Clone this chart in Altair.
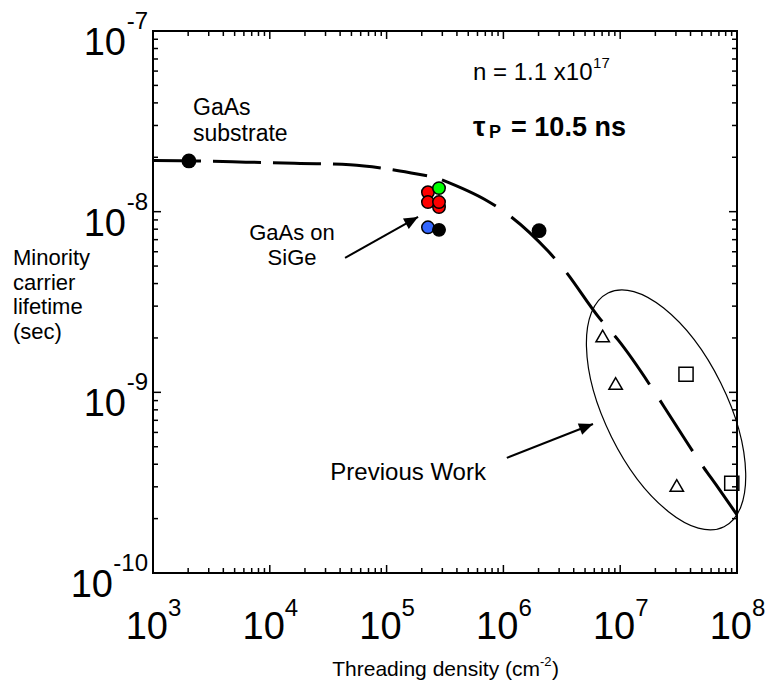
import altair as alt
import pandas as pd

FONT = "Liberation Sans"

# ---- data ----
curve_density = [1e3, 2.07e3, 6.25e3, 1.82e4, 4.86e4, 1.30e5, 2.22e5,
                 2.98e5, 7.24e5, 9.73e5, 2.41e6, 3.18e6, 6.72e6, 9.59e6,
                 2.07e7, 2.57e7, 5.21e7, 6.61e7, 1e8]
curve_lifetime = [1.92e-8, 1.91e-8, 1.88e-8, 1.85e-8, 1.82e-8, 1.68e-8, 1.58e-8,
                  1.50e-8, 1.15e-8, 1.02e-8, 6.05e-9, 4.94e-9, 2.55e-9, 1.95e-9,
                  9.55e-10, 7.69e-10, 3.82e-10, 3.08e-10, 2.10e-10]

dot_density = [2.03e3, 2.02e6]
dot_lifetime = [1.91e-8, 7.85e-9]

sige_density = [2.81e5, 2.26e5, 2.26e5, 2.81e5, 2.81e5, 2.26e5, 2.81e5]
sige_lifetime = [1.06e-8, 1.28e-8, 1.13e-8, 1.13e-8, 1.35e-8, 8.19e-9, 7.93e-9]
sige_color = ["#ff0000", "#ff0000", "#ff0000", "#ff0000", "#00ff00", "#3366ff", "#000000"]

prev_tri_density = [7.08e6, 9.14e6, 3.05e7]
prev_tri_lifetime = [2.05e-9, 1.12e-9, 3.05e-10]
prev_sq_density = [3.66e7, 9.02e7]
prev_sq_lifetime = [1.26e-9, 3.14e-10]

x_major = [1e3, 1e4, 1e5, 1e6, 1e7, 1e8]
x_exp = ["3", "4", "5", "6", "7", "8"]
y_major = [1e-7, 1e-8, 1e-9]
y_exp = ["-7", "-8", "-9"]
y_major_last = [1e-10]
y_exp_last = ["-10"]
x_minor = [m * 10.0 ** e for e in range(3, 8) for m in range(2, 10)]
y_minor = [m * 10.0 ** e for e in range(-10, -7) for m in range(2, 10)]

# annotation anchors (data coordinates)
ellipse_center = {"x": [2.47e7], "y": [8.0e-10]}
arrow_x = [4.41e4, 1.07e6]
arrow_y = [5.55e-9, 4.34e-10]
arrow_x2 = [1.86e5, 5.85e6]
arrow_y2 = [9.35e-9, 6.68e-10]
arrow_angle = [330.7, 338.4]

W, H = 584, 542
xs = alt.Scale(type="log", domain=[1e3, 1e8])
ys = alt.Scale(type="log", domain=[1e-10, 1e-7])


def X(f="x"):
    return alt.X(f"{f}:Q", scale=xs, axis=None)


def Y(f="y"):
    return alt.Y(f"{f}:Q", scale=ys, axis=None)


layers = []

# ---- ticks (inward, all four sides) ----
dxM = pd.DataFrame({"x": x_major})
dxm = pd.DataFrame({"x": x_minor})
dyM = pd.DataFrame({"y": y_major + y_major_last})
dym = pd.DataFrame({"y": y_minor})
for d, L in ((dxM, 8), (dxm, 5)):
    layers.append(alt.Chart(d).mark_rule(color="black", strokeWidth=1.5).encode(
        x=X(), y=alt.value(H), y2=alt.value(H - L)))
    layers.append(alt.Chart(d).mark_rule(color="black", strokeWidth=1.5).encode(
        x=X(), y=alt.value(0), y2=alt.value(L)))
for d, L in ((dyM, 8), (dym, 5)):
    layers.append(alt.Chart(d).mark_rule(color="black", strokeWidth=1.5).encode(
        y=Y(), x=alt.value(0), x2=alt.value(L)))
    layers.append(alt.Chart(d).mark_rule(color="black", strokeWidth=1.5).encode(
        y=Y(), x=alt.value(W), x2=alt.value(W - L)))

# ---- dashed curve ----
curve = pd.DataFrame({"x": curve_density, "y": curve_lifetime})
flat = curve[curve["x"] <= 2.3e5]
steep = curve[curve["x"] >= 2.9e5]
layers.append(alt.Chart(flat).mark_line(color="black", strokeWidth=3, strokeDash=[48, 12],
                                        interpolate="monotone").encode(x=X(), y=Y()))
layers.append(alt.Chart(steep).mark_line(color="black", strokeWidth=3, strokeDash=[60, 19],
                                         interpolate="monotone").encode(x=X(), y=Y()))

# ---- ellipse (annotation) ----
ELLIPSE = "M-1,0 A1,0.467 0 1,0 1,0 A1,0.467 0 1,0 -1,0 Z"
layers.append(alt.Chart(pd.DataFrame(ellipse_center)).mark_point(
    shape=ELLIPSE, size=68121, angle=63.6, filled=False, color="black",
    strokeWidth=1.2, opacity=1).encode(x=X(), y=Y()))

# ---- data points ----
layers.append(alt.Chart(pd.DataFrame({"x": dot_density, "y": dot_lifetime})).mark_circle(
    size=220, color="black", opacity=1).encode(x=X(), y=Y()))
layers.append(alt.Chart(pd.DataFrame({"x": sige_density, "y": sige_lifetime, "c": sige_color})).mark_circle(
    size=155, opacity=1, stroke="black", strokeWidth=1.5).encode(
    x=X(), y=Y(), fill=alt.Fill("c:N", scale=None)))
layers.append(alt.Chart(pd.DataFrame({"x": prev_tri_density, "y": prev_tri_lifetime})).mark_point(
    shape="triangle-up", size=180, filled=False, color="black", strokeWidth=1.5, opacity=1).encode(x=X(), y=Y()))
layers.append(alt.Chart(pd.DataFrame({"x": prev_sq_density, "y": prev_sq_lifetime})).mark_point(
    shape="square", size=200, filled=False, color="black", strokeWidth=1.5, opacity=1).encode(x=X(), y=Y()))

# ---- arrows ----
arr = pd.DataFrame({"x": arrow_x, "y": arrow_y, "x2": arrow_x2, "y2": arrow_y2, "a": arrow_angle})
layers.append(alt.Chart(arr).mark_rule(color="black", strokeWidth=2).encode(
    x=X(), y=Y(), x2="x2:Q", y2="y2:Q"))
HEAD = "M0,0 L-2,-0.85 L-2,0.85 Z"
layers.append(alt.Chart(arr).mark_point(shape=HEAD, size=196, filled=True, color="black", opacity=1).encode(
    x=X("x2"), y=Y("y2"), angle=alt.Angle("a:Q", scale=None)))

# ---- annotation texts (data coordinates) ----
def txt(x, y, s, size=22, align="left", weight="normal", dx=0, dy=0):
    return alt.Chart(pd.DataFrame({"x": [x], "y": [y], "t": [s]})).mark_text(
        font=FONT, fontSize=size, align=align, baseline="middle", fontWeight=weight,
        dx=dx, dy=dy, color="black").encode(x=X(), y=Y(), text="t:N")

layers += [
    txt(2.2e3, 3.75e-8, "GaAs", size=23),
    txt(2.2e3, 2.69e-8, "substrate", size=23),
    txt(1.55e4, 7.62e-9, "GaAs on", align="center"),
    txt(1.55e4, 5.55e-9, "SiGe", align="center"),
    txt(3.3e4, 3.58e-10, "Previous Work", size=24),
    txt(5.50e5, 5.86e-8, "n = 1.1 x10", size=24),
    txt(5.50e5, 5.86e-8, "17", size=15, dx=120, dy=-10),
    txt(5.50e5, 2.90e-8, "\u03c4", size=28, weight="bold"),
    txt(5.50e5, 2.90e-8, "P", size=18, weight="bold", dx=16, dy=5),
    txt(5.50e5, 2.90e-8, "= 10.5 ns", size=27, weight="bold", dx=38),
]

# ---- axis tick labels ----
xl = pd.DataFrame({"x": x_major, "e": x_exp})
layers.append(alt.Chart(xl).mark_text(font=FONT, fontSize=38, align="right", baseline="middle", dx=15).encode(
    x=X(), y=alt.value(H + 55), text=alt.value("10")))
layers.append(alt.Chart(xl).mark_text(font=FONT, fontSize=24, align="left", baseline="middle", dx=15).encode(
    x=X(), y=alt.value(H + 36), text="e:N"))

yl = pd.DataFrame({"y": y_major, "e": y_exp})
layers.append(alt.Chart(yl).mark_text(font=FONT, fontSize=38, align="right", baseline="middle", dy=13).encode(
    y=Y(), x=alt.value(-27), text=alt.value("10")))
layers.append(alt.Chart(yl).mark_text(font=FONT, fontSize=24, align="right", baseline="middle", dy=-9).encode(
    y=Y(), x=alt.value(-5), text="e:N"))
yl2 = pd.DataFrame({"y": y_major_last, "e": y_exp_last})
layers.append(alt.Chart(yl2).mark_text(font=FONT, fontSize=38, align="right", baseline="middle", dy=13).encode(
    y=Y(), x=alt.value(-40), text=alt.value("10")))
layers.append(alt.Chart(yl2).mark_text(font=FONT, fontSize=24, align="right", baseline="middle", dy=-9).encode(
    y=Y(), x=alt.value(-5), text="e:N"))

# ---- axis titles ----
def ptxt(x, y, s, size=21, align="left", dy=0):
    return alt.Chart(pd.DataFrame({"t": [s]})).mark_text(
        font=FONT, fontSize=size, align=align, baseline="middle", color="black", dy=dy).encode(
        x=alt.value(x), y=alt.value(y), text="t:N")

layers += [
    ptxt(387, H + 97, "Threading density (cm", align="right"),
    ptxt(387, H + 89, "-2", size=13),
    ptxt(399, H + 97, ")"),
    ptxt(-140, 227, "Minority", size=22),
    ptxt(-140, 252, "carrier", size=22),
    ptxt(-140, 276, "lifetime", size=22),
    ptxt(-140, 301, "(sec)", size=22),
]

chart = alt.layer(*layers).properties(
    width=W, height=H,
    padding={"left": 153, "top": 31, "right": 30, "bottom": 118},
    autosize=alt.AutoSizeParams(type="none"),
    background="white",
).configure_view(stroke="black", strokeWidth=2)

chart.save("out.html", embed_options={"renderer": "svg", "actions": False})
